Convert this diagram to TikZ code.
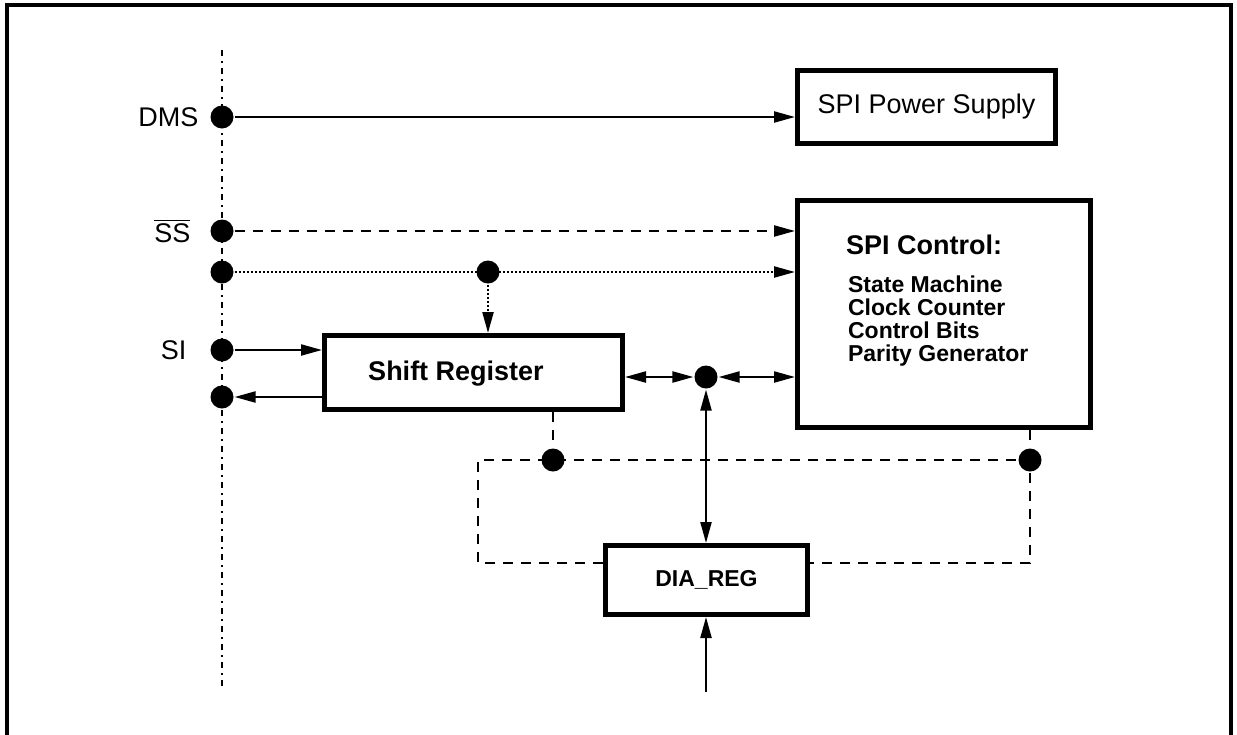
\documentclass[tikz,border=0pt]{standalone}
\usepackage{fontspec}
\setmainfont{Liberation Sans}
\usetikzlibrary{arrows.meta,positioning}

\begin{document}
\begin{tikzpicture}[
        x=0.5pt,y=-0.5pt,
        line width=1.1pt,
        >={Triangle[length=10.5pt,width=5.5pt]},
        blk/.style n args={2}{draw,line width=2.5pt,minimum width=#1,minimum height=#2,inner sep=0pt},
        jdot/.style={circle,fill,inner sep=0pt,minimum size=11.5pt},
        sig/.style={inner sep=0pt,font=\fontsize{13.5}{16}\selectfont},
        bus/.style={line width=1pt,dash pattern=on 3pt off 2.5pt on 1pt off 2.5pt},
        dsh/.style={dash pattern=on 5pt off 4pt},
        dotline/.style={dash pattern=on 1pt off 1pt}
    ]
    \useasboundingbox (0,0) rectangle (1237,734);
    \draw[line width=1.6pt] (7,740) -- (7,5) -- (1231,5) -- (1231,740);

    \coordinate (bustop) at (222,50);
    \coordinate (busbot) at (222,688);
    \draw[bus] (bustop) -- (busbot);

    \node (psu) [blk={129pt}{36.5pt},sig] at (926.5,107) {SPI Power Supply};
    \node (ctrl) [blk={146.5pt}{113.5pt}] at (944,314) {};
    \node (ctrltitle) [anchor=base west,inner sep=0pt,font=\bfseries\fontsize{13.5}{16}\selectfont] at (845,254) {SPI Control:};
    \node (ctrllist) [anchor=base west,inner sep=0pt,align=left,font=\bfseries\fontsize{11.5}{11.5}\selectfont] at (847,361) {State Machine\\Clock Counter\\Control Bits\\Parity Generator};
    \node (sr) [blk={149pt}{37pt}] at (473.5,372.5) {};
    \node (srtext) [anchor=base,inner sep=0pt,font=\bfseries\fontsize{13.5}{16}\selectfont] at (456,380) {Shift Register};
    \node (dia) [blk={101pt}{34.5pt},font=\bfseries\fontsize{11.5}{14}\selectfont] at (706.5,580) {DIA\_REG};

    \node (dms) [jdot] at (222,117) {};
    \node (ss) [jdot] at (222,231) {};
    \node (clk) [jdot] at (222,272) {};
    \node (si) [jdot] at (222,350) {};
    \node (so) [jdot] at (222,397) {};
    \node (clkdot) [jdot] at (488,272) {};
    \node (hub) [jdot] at (706,377) {};
    \node (lsplit) [jdot] at (553,460) {};
    \node (rsplit) [jdot] at (1030,460) {};

    \node (dmslbl) [sig,left=5pt of dms] {DMS};
    \node (sslbl) [sig,left=9pt of ss] {$\overline{\mbox{SS}}$};
    \node (silbl) [sig,left=11pt of si] {SI};

    \draw[->] (dms) -- (dms -| psu.west);
    \draw[dsh,->] (ss) -- (ss -| ctrl.west);
    \draw[dotline,->] (clk) -- (clk -| ctrl.west);
    \draw[dotline,->] (clkdot) -- (clkdot |- sr.north);
    \draw[->] (si) -- (si -| sr.west);
    \draw[->] (so -| sr.west) -- (so);
    \draw[<->] (hub -| sr.east) -- (hub);
    \draw[<->] (hub) -- (hub -| ctrl.west);
    \draw[<->] (hub) -- (hub |- dia.north);
    \coordinate (diain) at (706,692);
    \draw[->] (diain) -- (diain |- dia.south);

    \coordinate (loopl) at (478,563);
    \draw[dsh] (sr.south -| lsplit) -- (lsplit);
    \draw[dsh] (rsplit |- ctrl.south) -- (rsplit);
    \draw[dsh] (loopl -| dia.west) -- (loopl) |- (rsplit) |- (dia.east |- loopl);
\end{tikzpicture}
\end{document}
